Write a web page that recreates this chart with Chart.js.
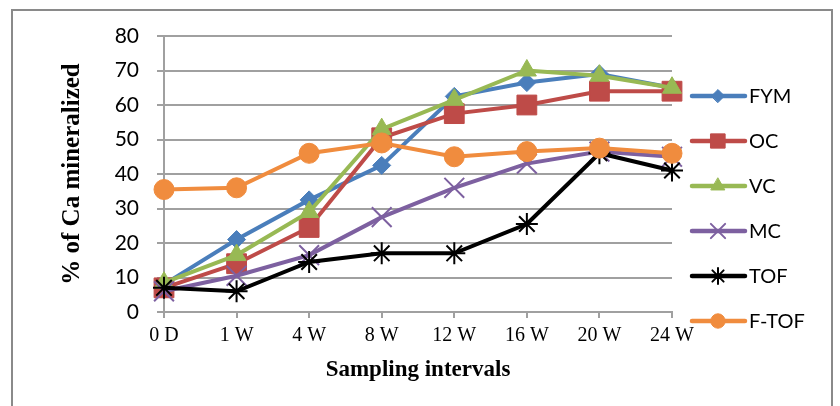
<!DOCTYPE html>
<html>
<head>
<meta charset="utf-8">
<script src="https://cdn.jsdelivr.net/npm/chart.js@4/dist/chart.umd.min.js"></script>
<style>
  html, body { margin: 0; padding: 0; background: #fff; }
  #chart { display: block; }
</style>
</head>
<body>
<canvas id="chart" width="840" height="406"></canvas>
<script>
'use strict';

// sampling intervals on the x axis
const intervals = ['0 D', '1 W', '4 W', '8 W', '12 W', '16 W', '20 W', '24 W'];

// % of Ca mineralized for each treatment
const fym  = [8, 21, 32.5, 42.5, 62.5, 66.5, 69, 65];
const oc   = [7, 14, 24.5, 50.5, 57.5, 60, 64, 64];
const vc   = [8.5, 16.5, 29, 53, 61.5, 70, 68.5, 65];
const mc   = [6, 10.5, 16.5, 27.5, 36, 43, 46.5, 45];
const tof  = [7, 6, 14.5, 17, 17, 25.5, 46, 41];
const ftof = [35.5, 36, 46, 49, 45, 46.5, 47.5, 46];

const yTicks = [0, 10, 20, 30, 40, 50, 60, 70, 80];

const series = [
  { label: 'FYM',   data: fym,  color: '#4A7EBB', style: 'rectRot',  radius: 9,  bw: 1 },
  { label: 'OC',    data: oc,   color: '#BE4B48', style: 'rect',     radius: 14, bw: 1 },
  { label: 'VC',    data: vc,   color: '#98B954', style: 'triangle', radius: 11, bw: 1 },
  { label: 'MC',    data: mc,   color: '#7D60A0', style: 'crossRot', radius: 14, bw: 2 },
  { label: 'TOF',   data: tof,  color: '#000000', style: 'star',     radius: 11, bw: 2 },
  { label: 'F-TOF', data: ftof, color: '#F08C3E', style: 'circle',   radius: 10, bw: 1 }
];

const gridColor = '#A0A0A0';

// outer frame of the figure
const framePlugin = {
  id: 'frame',
  beforeDraw(chart) {
    const ctx = chart.ctx;
    ctx.save();
    ctx.fillStyle = '#fff';
    ctx.fillRect(0, 0, chart.width, chart.height);
    ctx.strokeStyle = '#8A8A8A';
    ctx.lineWidth = 2;
    ctx.strokeRect(12, 10, 820, 420);
    ctx.restore();
  }
};

// legend on the right: short line with the marker in the middle
const sideLegend = {
  id: 'sideLegend',
  afterDraw(chart) {
    const ctx = chart.ctx;
    const x0 = 692, x1 = 745, xm = 718;
    let y = 96;
    chart.data.datasets.forEach(ds => {
      ctx.save();
      ctx.strokeStyle = ds.borderColor;
      ctx.lineWidth = 4.5;
      ctx.lineCap = 'round';
      ctx.beginPath();
      ctx.moveTo(x0, y);
      ctx.lineTo(x1, y);
      ctx.stroke();
      ctx.fillStyle = ds.pointBackgroundColor;
      ctx.strokeStyle = ds.pointBorderColor;
      ctx.lineWidth = ds.pointBorderWidth;
      Chart.helpers.drawPoint(ctx, {
        pointStyle: ds.pointStyle,
        radius: ds.pointRadius * 0.72,
        borderWidth: ds.pointBorderWidth,
        rotation: 0
      }, xm, y);
      ctx.fillStyle = '#000';
      ctx.font = '20px Lato, "Open Sans", sans-serif';
      ctx.textAlign = 'left';
      ctx.textBaseline = 'middle';
      ctx.fillText(ds.label, 749, y + 1);
      ctx.restore();
      y += 45;
    });
  }
};

const ctx = document.getElementById('chart').getContext('2d');

new Chart(ctx, {
  type: 'line',
  data: {
    labels: intervals,
    datasets: series.map((s, i) => ({
      label: s.label,
      data: s.data,
      borderColor: s.color,
      backgroundColor: s.color,
      borderWidth: 4,
      pointStyle: s.style,
      pointRadius: s.radius,
      pointHoverRadius: s.radius,
      pointBackgroundColor: s.color,
      pointBorderColor: s.color,
      pointBorderWidth: s.bw,
      tension: 0,
      fill: false,
      order: series.length - i
    }))
  },
  options: {
    responsive: false,
    devicePixelRatio: 1,
    animation: false,
    layout: { padding: { left: 0, right: 168, top: 36, bottom: 0 } },
    plugins: {
      legend: { display: false },
      tooltip: { enabled: false }
    },
    scales: {
      x: {
        offset: false,
        grid: {
          drawOnChartArea: false,
          drawTicks: true,
          tickLength: 6,
          color: gridColor,
          lineWidth: 2
        },
        border: { color: gridColor, width: 2 },
        ticks: {
          color: '#000',
          padding: 6,
          maxRotation: 0,
          autoSkip: false,
          font: { family: '"Liberation Serif", "Times New Roman", serif', size: 20, lineHeight: 1.2 }
        },
        title: {
          display: true,
          text: 'Sampling intervals',
          color: '#000',
          font: { family: '"Liberation Serif", "Times New Roman", serif', size: 23, weight: 'bold', lineHeight: 1.2 },
          padding: { top: 0, bottom: 22 }
        },
        afterFit(scale) { scale.height = 94; }
      },
      y: {
        min: 0,
        max: 80,
        afterBuildTicks(scale) { scale.ticks = yTicks.map(v => ({ value: v })); },
        grid: {
          color: gridColor,
          lineWidth: 2,
          tickLength: 7
        },
        border: { color: gridColor, width: 2 },
        ticks: {
          color: '#000',
          padding: 18,
          font: { family: 'Lato, "Open Sans", sans-serif', size: 21 }
        },
        title: {
          display: true,
          text: '% of Ca mineralized',
          color: '#000',
          font: { family: '"Liberation Serif", "Times New Roman", serif', size: 25, weight: 'bold', lineHeight: 1.2 },
          padding: { top: 58, bottom: 0 }
        },
        afterFit(scale) { scale.width = 164; }
      }
    }
  },
  plugins: [framePlugin, sideLegend]
});
</script>
</body>
</html>
